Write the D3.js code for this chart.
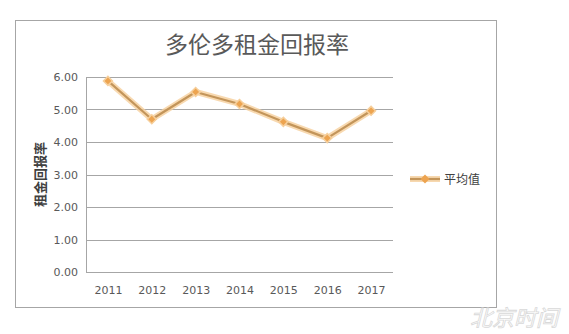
<!DOCTYPE html>
<html>
<head>
<meta charset="utf-8">
<script src="https://cdn.jsdelivr.net/npm/d3@7"></script>
<style>
  body { margin: 0; background: #fff; }
  svg text { font-family: "Noto Sans CJK SC", "DejaVu Sans", sans-serif; }
</style>
</head>
<body>
<div id="chart"></div>
<script>
// data
var years = ["2011", "2012", "2013", "2014", "2015", "2016", "2017"];
var avgValues = [5.88, 4.70, 5.54, 5.17, 4.62, 4.12, 4.96];
var yTicks = [0, 1, 2, 3, 4, 5, 6];
var titleText = "多伦多租金回报率";
var yAxisTitle = "租金回报率";
var seriesName = "平均值";

var w = 569, h = 334;
var margin = {top: 77, right: 176, bottom: 62, left: 86},
    width = w - margin.left - margin.right,
    height = h - margin.top - margin.bottom;

var svg = d3.select("#chart").append("svg")
    .attr("width", w)
    .attr("height", h);

// outer chart frame
svg.append("rect")
    .attr("x", 15.5).attr("y", 20.5)
    .attr("width", 481).attr("height", 287)
    .attr("fill", "#fff")
    .attr("stroke", "#a6a6a6")
    .attr("stroke-width", 1);

svg.append("text")
    .attr("x", 257).attr("y", 53)
    .attr("text-anchor", "middle")
    .attr("font-size", 23)
    .attr("fill", "#595959")
    .text(titleText);

var g = svg.append("g").attr("transform", "translate(" + margin.left + "," + margin.top + ")");

var x = d3.scalePoint()
    .domain(years)
    .range([0, width])
    .padding(0.5);
var y = d3.scaleLinear()
    .domain([0, 6])
    .range([height, 0]);

// gridlines
g.append("g")
    .selectAll("line")
    .data(yTicks)
    .enter().append("line")
    .attr("x1", 0).attr("x2", width)
    .attr("y1", function (d) { return Math.round(y(d)) + 0.5; })
    .attr("y2", function (d) { return Math.round(y(d)) + 0.5; })
    .attr("stroke", "#a6a6a6")
    .attr("stroke-width", 1);

// left axis line
g.append("line")
    .attr("x1", 0.5).attr("x2", 0.5)
    .attr("y1", 0).attr("y2", height)
    .attr("stroke", "#a6a6a6");

var yAxis = g.append("g")
    .call(d3.axisLeft(y).tickValues(yTicks).tickFormat(d3.format(".2f")).tickSize(0).tickPadding(8));
yAxis.select(".domain").remove();
yAxis.selectAll("text")
    .attr("font-size", 11)
    .attr("fill", "#595959")
    .style("font-family", "'DejaVu Sans', sans-serif");

var xAxis = g.append("g")
    .attr("transform", "translate(0," + height + ")")
    .call(d3.axisBottom(x).tickSize(0).tickPadding(14));
xAxis.select(".domain").remove();
xAxis.selectAll("text")
    .attr("font-size", 11)
    .attr("fill", "#595959")
    .style("font-family", "'DejaVu Sans', sans-serif");

svg.append("text")
    .attr("transform", "translate(45," + (margin.top + height / 2) + ") rotate(-90)")
    .attr("text-anchor", "middle")
    .attr("font-size", 13)
    .attr("font-weight", "bold")
    .attr("fill", "#404040")
    .text(yAxisTitle);

var line = d3.line()
    .x(function (d, i) { return x(years[i]); })
    .y(function (d) { return y(d); });

// soft orange glow under the line
g.append("path")
    .datum(avgValues)
    .attr("d", line)
    .attr("fill", "none")
    .attr("stroke", "#f6cf9c")
    .attr("stroke-width", 6)
    .attr("stroke-linejoin", "round")
    .attr("opacity", 0.8);
g.append("path")
    .datum(avgValues)
    .attr("d", line)
    .attr("fill", "none")
    .attr("stroke", "#c3955a")
    .attr("stroke-width", 2.2)
    .attr("stroke-linejoin", "round");

// square marker turned 45 degrees
var diamond = d3.symbol().type(d3.symbolSquare).size(40);
g.selectAll(".pt")
    .data(avgValues)
    .enter().append("path")
    .attr("class", "pt")
    .attr("d", diamond)
    .attr("transform", function (d, i) { return "translate(" + x(years[i]) + "," + y(d) + ") rotate(45)"; })
    .attr("fill", "#eda450")
    .attr("stroke", "#f6cf9c")
    .attr("stroke-width", 1.5);

// legend
var lg = svg.append("g").attr("transform", "translate(410,179)");
lg.append("line")
    .attr("x1", 0).attr("x2", 30)
    .attr("stroke", "#f6cf9c").attr("stroke-width", 6).attr("opacity", 0.8);
lg.append("line")
    .attr("x1", 0).attr("x2", 30)
    .attr("stroke", "#c3955a").attr("stroke-width", 2.2);
lg.append("path")
    .attr("d", diamond)
    .attr("transform", "translate(15,0) rotate(45)")
    .attr("fill", "#eda450");
lg.append("text")
    .attr("x", 34).attr("y", 5)
    .attr("font-size", 12)
    .attr("fill", "#404040")
    .text(seriesName);

// watermark
svg.append("text")
    .attr("x", 558).attr("y", 326)
    .attr("text-anchor", "end")
    .attr("font-size", 22)
    .attr("font-style", "italic")
    .attr("fill", "none")
    .attr("stroke", "#d9d9d9")
    .attr("stroke-width", 0.8)
    .text("北京时间");
</script>
</body>
</html>
